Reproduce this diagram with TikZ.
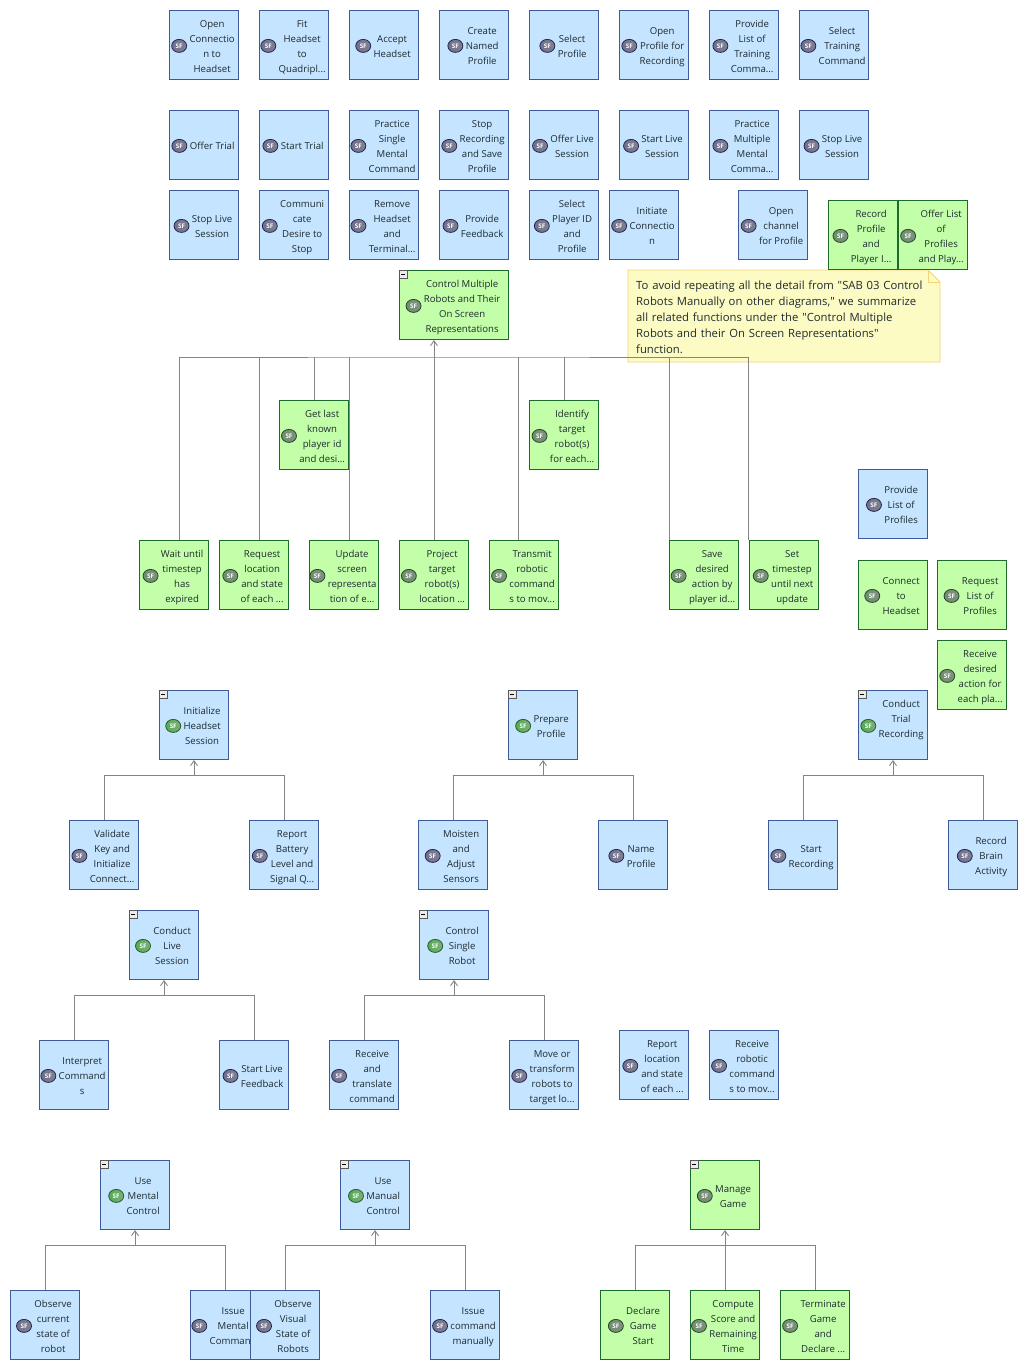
\documentclass[tikz,border=0pt]{standalone}
\usepackage{fontspec}
\setmainfont{Open Sans}
\newfontfamily\notefont{Open Sans}
\usetikzlibrary{arrows.meta,backgrounds,shapes.geometric}
\definecolor{bluefill}{HTML}{C4E4FF}
\definecolor{blueedge}{HTML}{3F5A9A}
\definecolor{greenfill}{HTML}{C2FFA8}
\definecolor{greenedge}{HTML}{1C6B2C}
\definecolor{notefill}{HTML}{FDFBC4}
\definecolor{noteedge}{HTML}{F3D27A}
\definecolor{connline}{HTML}{858585}
\definecolor{boxtext}{HTML}{1E2A30}
\tikzset{
  fnbox/.style ={draw, line width=0.9pt, minimum width=69pt, minimum height=69pt, inner sep=0pt,
                 text=boxtext, font=\fontsize{9.6}{15}\selectfont},
  fnblue/.style ={fnbox, fill=bluefill, draw=blueedge},
  fngreen/.style={fnbox, fill=greenfill, draw=greenedge},
  wide/.style   ={minimum width=109pt},
  fold/.style   ={draw=gray!70!black, fill=gray!15, line width=0.5pt, minimum size=8pt, inner sep=0pt, anchor=north west},
  notebox/.style={inner sep=0pt, anchor=north west, align=left, text width=300pt, text=boxtext,
                  font=\notefont\fontsize{11.3}{16}\selectfont},
  conn/.style   ={draw=connline, line width=0.9pt},
  connup/.style ={conn, -{Straight Barb[length=5pt,width=7pt]}},
  sfbadge/.style={ellipse, line width=0.8pt, minimum width=15pt, minimum height=13pt, inner sep=0pt}
}
% SF badges, one per colouring
\newcommand{\mkbadge}[3]{\sbox{#1}{\tikz\node[sfbadge, left color=#2, right color=white!50!#2, draw=#3]{\fontsize{6.3}{6.3}\selectfont\bfseries\color{white}SF};}}
\newsavebox{\sfblue}
\newsavebox{\sfdull}
\newsavebox{\sflive}
\mkbadge{\sfblue}{blue!12!gray}{blue!20!black!85}
\mkbadge{\sfdull}{green!12!gray}{green!15!black!85}
\mkbadge{\sflive}{green!35!gray}{green!25!black!85}
% one function box: [badge]{style}{name}{centre}{lines}
\newcommand{\fn}[5][\sfblue]{\node[#2] (#3) at (#4) {\makebox[0pt]{\raisebox{-3.4pt}[0pt][0pt]{$\vcenter{\hbox{\usebox{#1}}}$}\hspace{2.5pt}\raisebox{-4.4pt}[0pt][0pt]{\begin{tabular}{@{}c@{}}#5\end{tabular}}\hspace{2pt}}};}
\newcommand{\fnfold}[1]{\node[fold] (#1fold) at (#1.north west) {\rule{4pt}{0.9pt}};}
\begin{document}
\begin{tikzpicture}[x=1pt,y=-1pt]
\useasboundingbox (0,0) rectangle (1028,1370);
% top rows
\fn{fnblue}{opencon}{204,45}{Open\\Connectio\\n to\\Headset}
\fn{fnblue}{fitset}{294,45}{Fit\\Headset\\to\\Quadripl...}
\fn{fnblue}{acceptset}{384,45}{Accept\\Headset}
\fn{fnblue}{createprof}{474,45}{Create\\Named\\Profile}
\fn{fnblue}{selprof}{564,45}{Select\\Profile}
\fn{fnblue}{openprof}{654,45}{Open\\Profile for\\Recording}
\fn{fnblue}{listcmd}{744,45}{Provide\\List of\\Training\\Comma...}
\fn{fnblue}{selcmd}{834,45}{Select\\Training\\Command}
\fn{fnblue}{offertrial}{204,145}{Offer Trial}
\fn{fnblue}{starttrial}{294,145}{Start Trial}
\fn{fnblue}{singlecmd}{384,145}{Practice\\Single\\Mental\\Command}
\fn{fnblue}{stopsave}{474,145}{Stop\\Recording\\and Save\\Profile}
\fn{fnblue}{offerlive}{564,145}{Offer Live\\Session}
\fn{fnblue}{startlive}{654,145}{Start Live\\Session}
\fn{fnblue}{multicmd}{744,145}{Practice\\Multiple\\Mental\\Comma...}
\fn{fnblue}{stoplive}{834,145}{Stop Live\\Session}
\fn{fnblue}{stoplivetwo}{204,225}{Stop Live\\Session}
\fn{fnblue}{desire}{294,225}{Communi\\cate\\Desire to\\Stop}
\fn{fnblue}{removeset}{384,225}{Remove\\Headset\\and\\Terminal...}
\fn{fnblue}{feedback}{474,225}{Provide\\Feedback}
\fn{fnblue}{selplayer}{564,225}{Select\\Player ID\\and\\Profile}
\fn{fnblue}{initcon}{644,225}{Initiate\\Connectio\\n}
\fn{fnblue}{channel}{773,225}{Open\\channel\\for Profile}
\fn[\sfdull]{fngreen}{recprof}{863,235}{Record\\Profile\\and\\Player I...}
\fn[\sfdull]{fngreen}{offerlist}{933,235}{Offer List\\of\\Profiles\\and Play...}
% control multiple
\fn[\sfdull]{fngreen,wide}{ctrlmulti}{454,305}{Control Multiple\\Robots and Their\\On Screen\\Representations}
\fnfold{ctrlmulti}
\fn[\sfdull]{fngreen}{getlast}{314,435}{Get last\\known\\player id\\and desi...}
\fn[\sfdull]{fngreen}{identify}{564,435}{Identify\\target\\robot(s)\\for each...}
\fn[\sfdull]{fngreen}{waitstep}{174,575}{Wait until\\timestep\\has\\expired}
\fn[\sfdull]{fngreen}{reqloc}{254,575}{Request\\location\\and state\\of each ...}
\fn[\sfdull]{fngreen}{update}{344,575}{Update\\screen\\representa\\tion of e...}
\fn[\sfdull]{fngreen}{project}{434,575}{Project\\target\\robot(s)\\location ...}
\fn[\sfdull]{fngreen}{transmit}{524,575}{Transmit\\robotic\\command\\s to mov...}
\fn[\sfdull]{fngreen}{savedes}{704,575}{Save\\desired\\action by\\player id...}
\fn[\sfdull]{fngreen}{setstep}{784,575}{Set\\timestep\\until next\\update}
% right column
\fn{fnblue}{listprof}{893,504}{Provide\\List of\\Profiles}
\fn[\sfdull]{fngreen}{connset}{893,595}{Connect\\to\\Headset}
\fn[\sfdull]{fngreen}{reqlist}{972,595}{Request\\List of\\Profiles}
\fn[\sfdull]{fngreen}{recdes}{972,675}{Receive\\desired\\action for\\each pla...}
% headset, profile, trial
\fn[\sflive]{fnblue}{initset}{194,725}{Initialize\\Headset\\Session}
\fnfold{initset}
\fn{fnblue}{validate}{104,855}{Validate\\Key and\\Initialize\\Connect...}
\fn{fnblue}{battery}{284,855}{Report\\Battery\\Level and\\Signal Q...}
\fn[\sflive]{fnblue}{prepprof}{543,725}{Prepare\\Profile}
\fnfold{prepprof}
\fn{fnblue}{moisten}{453,855}{Moisten\\and\\Adjust\\Sensors}
\fn{fnblue}{nameprof}{633,855}{Name\\Profile}
\fn[\sflive]{fnblue}{condtrial}{893,725}{Conduct\\Trial\\Recording\\ {}}
\fnfold{condtrial}
\fn{fnblue}{startrec}{803,855}{Start\\Recording}
\fn{fnblue}{brain}{983,855}{Record\\Brain\\Activity}
% live session, single robot
\fn[\sflive]{fnblue}{condlive}{164,945}{Conduct\\Live\\Session}
\fnfold{condlive}
\fn{fnblue}{interpret}{74,1075}{Interpret\\Command\\s}
\fn{fnblue}{livefeed}{254,1075}{Start Live\\Feedback}
\fn[\sflive]{fnblue}{ctrlsingle}{454,945}{Control\\Single\\Robot}
\fnfold{ctrlsingle}
\fn{fnblue}{translate}{364,1075}{Receive\\and\\translate\\command}
\fn{fnblue}{moverob}{544,1075}{Move or\\transform\\robots to\\target lo...}
\fn{fnblue}{reploc}{654,1065}{Report\\location\\and state\\of each ...}
\fn{fnblue}{recrob}{744,1065}{Receive\\robotic\\command\\s to mov...}
% mental, manual, game
\fn[\sflive]{fnblue}{usemental}{135,1195}{Use\\Mental\\Control}
\fnfold{usemental}
\fn{fnblue}{observe}{45,1325}{Observe\\current\\state of\\robot}
\fn{fnblue}{issuement}{225,1325}{Issue\\Mental\\Command}
\fn[\sflive]{fnblue}{usemanual}{375,1195}{Use\\Manual\\Control}
\fnfold{usemanual}
\fn{fnblue}{obsvisual}{285,1325}{Observe\\Visual\\State of\\Robots}
\fn{fnblue}{issueman}{465,1325}{Issue\\command\\manually}
\fn[\sfdull]{fngreen}{managegame}{725,1195}{Manage\\Game}
\fnfold{managegame}
\fn[\sfdull]{fngreen}{declstart}{635,1325}{Declare\\Game\\Start}
\fn[\sfdull]{fngreen}{compute}{725,1325}{Compute\\Score and\\Remaining\\Time}
\fn[\sfdull]{fngreen}{terminate}{815,1325}{Terminate\\Game\\and\\Declare ...}
\begin{scope}[on background layer]
% note sits under the connectors
\coordinate (notenw) at (628,270);
\coordinate (notefold) at (928,270);
\coordinate (noteear) at (940,282);
\coordinate (notese) at (940,362);
\coordinate (notesw) at (628,362);
\draw[noteedge, fill=notefill, line width=0.9pt] (notenw) -- (notefold) -- (noteear) -- (notese) -- (notesw) -- cycle;
\draw[noteedge, line width=0.9pt] (notefold) |- (noteear);
\node[notebox] (notetext) at (636,281) {To avoid repeating all the detail from "SAB 03 Control\\Robots Manually on other diagrams," we summarize\\all related functions under the "Control Multiple\\Robots and their On Screen Representations"\\function.};
% connectors
\coordinate (multibar) at (434,357);
\draw[connup] (multibar) -- ([xshift=-20pt]ctrlmulti.south);
\draw[conn] ([xshift=5pt]waitstep.north) |- (multibar) -| ([xshift=-36pt]setstep.north);
\draw[conn] ([xshift=5pt]reqloc.north) -- ([xshift=5pt]reqloc.north |- multibar);
\draw[conn] ([xshift=5pt]update.north) -- ([xshift=5pt]update.north |- multibar);
\draw[conn] (getlast.north) -- (getlast.north |- multibar);
\draw[conn] (project.north) -- (multibar);
\draw[conn] ([xshift=-6pt]transmit.north) -- ([xshift=-6pt]transmit.north |- multibar);
\draw[conn] (identify.north) -- (identify.north |- multibar);
\draw[conn] ([xshift=-35pt]savedes.north) -- ([xshift=-35pt]savedes.north |- multibar);
\foreach \boss/\kidl/\kidr in {initset/validate/battery, prepprof/moisten/nameprof, condtrial/startrec/brain,
    condlive/interpret/livefeed, ctrlsingle/translate/moverob, usemental/observe/issuement,
    usemanual/obsvisual/issueman, managegame/declstart/terminate} {
  \coordinate (\boss bar) at ([yshift=-15.5pt]\boss.south);
  \draw[connup] (\boss bar) -- (\boss.south);
  \draw[conn] (\kidl.north) |- (\boss bar) -| (\kidr.north);
}
\draw[conn] (compute.north) -- (managegamebar);
\end{scope}
\end{tikzpicture}
\end{document}
